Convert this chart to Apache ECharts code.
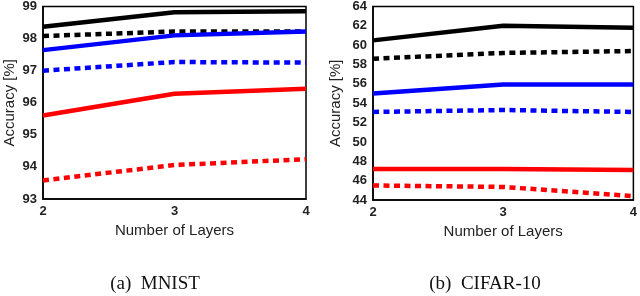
<!DOCTYPE html>
<html><head><meta charset="utf-8">
<script src="https://cdn.jsdelivr.net/npm/echarts@6/dist/echarts.min.js"></script>
<style>html,body{margin:0;padding:0;background:#fff}#c{width:640px;height:296px}</style>
</head><body><div id="c"></div>
<script>
const layers = [2, 3, 4];
// MNIST
const mnistBlackSolid = [98.37, 98.82, 98.85];
const mnistBlackDash  = [98.08, 98.22, 98.22];
const mnistBlueSolid  = [97.64, 98.1, 98.22];
const mnistBlueDash   = [97.0, 97.27, 97.25];
const mnistRedSolid   = [95.6, 96.28, 96.44];
const mnistRedDash    = [93.58, 94.06, 94.24];
// CIFAR-10
const cifarBlackSolid = [60.5, 62.0, 61.8];
const cifarBlackDash  = [58.6, 59.2, 59.4];
const cifarBlueSolid  = [55.0, 55.95, 55.95];
const cifarBlueDash   = [53.1, 53.3, 53.1];
const cifarRedSolid   = [47.2, 47.2, 47.1];
const cifarRedDash    = [45.5, 45.35, 44.4];

const mnistTicks = [93, 99, 1];
const cifarTicks = [44, 64, 2];

const font = 'Liberation Sans';
function mk(vals, color, dashed, idx) {
  return {
    type: 'line', xAxisIndex: idx, yAxisIndex: idx,
    data: layers.map((x, i) => [x, vals[i]]),
    symbol: 'none', smooth: false,
    lineStyle: { color: color, width: 4.5, type: dashed ? [6, 4.5] : 'solid', cap: 'butt' },
    z: 3
  };
}
function xAx(idx) {
  return {
    type: 'value', gridIndex: idx, min: 2, max: 4, interval: 1,
    name: 'Number of Layers', nameLocation: 'middle', nameGap: 23,
    nameTextStyle: { fontFamily: font, fontSize: 15, color: '#222' },
    axisLine: { show: true, lineStyle: { color: '#000', width: 1.5 } },
    axisTick: { show: false },
    axisLabel: { fontFamily: font, fontWeight: 'bold', fontSize: 13, color: '#222', margin: 6 },
    splitLine: { show: false }
  };
}
function yAx(idx, t) {
  return {
    type: 'value', gridIndex: idx, min: t[0], max: t[1], interval: t[2],
    name: 'Accuracy [%]', nameLocation: 'middle', nameGap: idx === 0 ? 26 : 30,
    nameTextStyle: { fontFamily: font, fontSize: 15, color: '#222' },
    axisLine: { show: true, lineStyle: { color: '#000', width: 1.5 } },
    axisTick: { show: false },
    axisLabel: { fontFamily: font, fontWeight: 'bold', fontSize: 13, color: '#222', margin: 6 },
    splitLine: { show: false }
  };
}
const chart = echarts.init(document.getElementById('c'), null, { renderer: 'canvas' });
chart.setOption({
  animation: false,
  backgroundColor: '#fff',
  title: [
    { text: '(a)  MNIST', left: 150, top: 270, textAlign: 'center',
      textStyle: { fontFamily: 'Liberation Serif', fontWeight: 'normal', fontSize: 19, color: '#111' } },
    { text: '(b)  CIFAR-10', left: 480, top: 270, textAlign: 'center',
      textStyle: { fontFamily: 'Liberation Serif', fontWeight: 'normal', fontSize: 19, color: '#111' } }
  ],
  grid: [
    { left: 43, top: 6, width: 263, height: 193, show: true, borderColor: '#000', borderWidth: 1.5, backgroundColor: 'transparent' },
    { left: 373, top: 6, width: 262, height: 194, show: true, borderColor: '#000', borderWidth: 1.5, backgroundColor: 'transparent' }
  ],
  xAxis: [xAx(0), xAx(1)],
  yAxis: [yAx(0, mnistTicks), yAx(1, cifarTicks)],
  series: [
    mk(mnistBlackSolid, '#000', false, 0),
    mk(mnistBlackDash, '#000', true, 0),
    mk(mnistBlueSolid, '#0000ff', false, 0),
    mk(mnistBlueDash, '#0000ff', true, 0),
    mk(mnistRedSolid, '#ff0000', false, 0),
    mk(mnistRedDash, '#ff0000', true, 0),
    mk(cifarBlackSolid, '#000', false, 1),
    mk(cifarBlackDash, '#000', true, 1),
    mk(cifarBlueSolid, '#0000ff', false, 1),
    mk(cifarBlueDash, '#0000ff', true, 1),
    mk(cifarRedSolid, '#ff0000', false, 1),
    mk(cifarRedDash, '#ff0000', true, 1)
  ]
});
</script></body></html>
